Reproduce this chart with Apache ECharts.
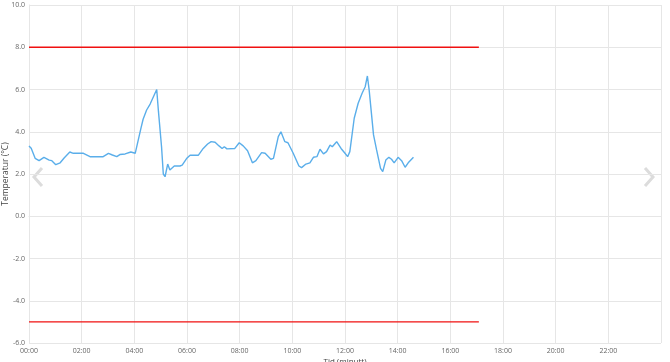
<!DOCTYPE html>
<html><head><meta charset="utf-8">
<script src="https://cdn.jsdelivr.net/npm/echarts@6/dist/echarts.min.js"></script>
<style>html,body{margin:0;padding:0;background:#fff}#c{width:670px;height:362px}</style>
</head><body><div id="c"></div>
<script>
// time in minutes since 00:00
const tempMinutes = [0,5,14,23,34,46,52,61,71,80,93,101,124,139,169,181,190,200,207,219,232,242,245,255,260,268,276,291,295,302,306,310,316,321,325,331,344,349,359,367,386,397,407,415,424,433,440,445,451,469,479,488,498,509,517,530,538,551,557,568,574,583,590,602,615,621,631,640,648,656,663,671,678,686,691,701,711,720,726,731,741,750,759,766,771,775,785,792,801,806,813,820,826,832,841,849,857,864,876];
const tempValues = [3.33,3.22,2.74,2.63,2.79,2.66,2.63,2.44,2.53,2.76,3.04,2.98,2.98,2.82,2.82,2.98,2.90,2.82,2.92,2.95,3.04,2.98,3.03,4.16,4.59,5.03,5.31,6.00,4.95,3.29,2.00,1.87,2.47,2.19,2.19,2.38,2.38,2.42,2.73,2.89,2.89,3.21,3.42,3.53,3.50,3.33,3.21,3.29,3.19,3.21,3.48,3.33,3.10,2.53,2.63,3.01,2.98,2.70,2.74,3.77,4.00,3.53,3.48,2.98,2.38,2.30,2.47,2.53,2.79,2.82,3.17,2.95,3.06,3.37,3.29,3.53,3.21,2.98,2.82,3.06,4.64,5.35,5.82,6.13,6.64,5.98,3.85,3.14,2.27,2.11,2.66,2.79,2.70,2.53,2.79,2.63,2.32,2.53,2.79];
const upperLimit = 8.0;
const lowerLimit = -5.0;
const limitStart = 0, limitEnd = 1025;
const yTicks = {min:-6, max:10, step:2};
const xTicks = {min:0, max:1440, step:120};

const chart = echarts.init(document.getElementById('c'));
const fmtTime = v => { const h = Math.floor(v/60), m = v%60; return String(h).padStart(2,'0')+':'+String(m).padStart(2,'0'); };
const font = 'Open Sans, sans-serif';
chart.setOption({
  animation:false,
  grid:{left:29,right:9,top:5,bottom:19,containLabel:false,outerBoundsMode:'none'},
  xAxis:{type:'value',min:xTicks.min,max:xTicks.max,interval:xTicks.step,
    name:'Tid (minutt)',nameLocation:'middle',nameGap:15,nameMoveOverlap:false,
    nameTextStyle:{fontSize:8,color:'#444',fontFamily:font,verticalAlign:'top'},
    axisLabel:{formatter:v=>v>=1440?'':fmtTime(v),fontSize:7,color:'#666',fontFamily:font,margin:4},
    axisLine:{lineStyle:{color:'#e6e6e6'}},axisTick:{show:false},
    splitLine:{show:true,lineStyle:{color:'#e6e6e6'}}},
  yAxis:{type:'value',min:yTicks.min,max:yTicks.max,interval:yTicks.step,
    name:'Temperatur (°C)',nameLocation:'middle',nameGap:19,nameRotate:90,nameMoveOverlap:false,
    nameTextStyle:{fontSize:8.5,color:'#444',fontFamily:font},
    axisLabel:{formatter:v=>v.toFixed(1),fontSize:7,color:'#666',fontFamily:font,margin:4},
    axisLine:{show:true,lineStyle:{color:'#e6e6e6'}},axisTick:{show:false},
    splitLine:{show:true,lineStyle:{color:'#e6e6e6'}}},
  series:[
    {type:'line',data:tempMinutes.map((m,i)=>[m,tempValues[i]]),showSymbol:false,
      lineStyle:{color:'#5aaeea',width:1.4},itemStyle:{color:'#5aaeea'}},
    {type:'line',data:[[limitStart,upperLimit],[limitEnd,upperLimit]],showSymbol:false,
      lineStyle:{color:'#f01010',width:1.4}},
    {type:'line',data:[[limitStart,lowerLimit],[limitEnd,lowerLimit]],showSymbol:false,
      lineStyle:{color:'#f01010',width:1.4}}
  ],
  graphic:[
    {type:'polyline',shape:{points:[[42,168],[34,177],[42,186]]},style:{stroke:'#dcdcdc',lineWidth:3,fill:null}},
    {type:'polyline',shape:{points:[[645,168],[653,177],[645,186]]},style:{stroke:'#dcdcdc',lineWidth:3,fill:null}}
  ]
});
</script></body></html>
